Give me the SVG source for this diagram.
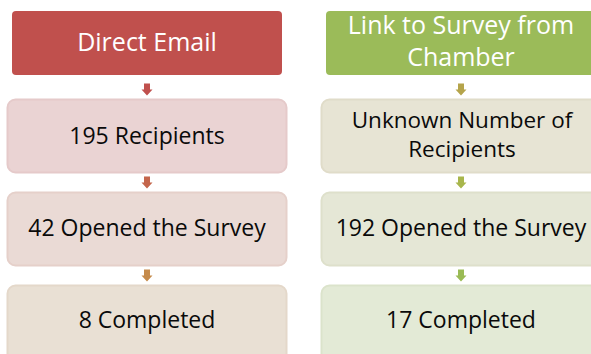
<svg xmlns="http://www.w3.org/2000/svg" width="591" height="354" viewBox="0 0 591 354">
  <style>
    text { font-family: "Open Sans", "Liberation Sans", sans-serif; text-anchor: middle; }
    .head { font-size: 25px; fill: #ffffff; }
    .step { font-size: 23px; fill: #0a0a0a; }
    .step2 { font-size: 22.5px; fill: #0a0a0a; }
    .box { stroke-width: 2; }
  </style>
  <defs>
    <!-- down arrow shape, drawn at origin, centred on x=0, 12 px tall -->
    <path id="down" d="M-3,0 H3 V6 H5.5 L0,12 L-5.5,6 H-3 Z"/>
  </defs>

  <!-- Left column: Direct Email -->
  <g id="direct-email">
    <rect x="12" y="11" width="270" height="64" rx="4" fill="#C0504D"/>
    <text class="head" x="147" y="51">Direct Email</text>
  </g>
  <g id="recipients-195">
    <rect class="box" x="7.5" y="99.5" width="279" height="73" rx="8" fill="#EAD3D3" stroke="#E5CACA"/>
    <text class="step" x="147" y="144">195 Recipients</text>
  </g>
  <g id="opened-42">
    <rect class="box" x="7.5" y="192.5" width="279" height="73" rx="8" fill="#EADAD5" stroke="#E5D0CA"/>
    <text class="step" x="147" y="236">42 Opened the Survey</text>
  </g>
  <g id="completed-8">
    <rect class="box" x="7.5" y="285.5" width="279" height="80" rx="8" fill="#E9E0D4" stroke="#E4D8CA"/>
    <text class="step" x="147" y="328">8 Completed</text>
  </g>

  <!-- Right column: Link to Survey from Chamber -->
  <g id="chamber-link">
    <rect x="326" y="11" width="270" height="64" rx="4" fill="#9BBB59"/>
    <text class="head" x="461" y="34">Link to Survey from</text>
    <text class="head" x="461" y="66">Chamber</text>
  </g>
  <g id="recipients-unknown">
    <rect class="box" x="321.5" y="99.5" width="279" height="73" rx="8" fill="#E7E4D4" stroke="#E0DCC9"/>
    <text class="step2" x="462" y="127.5">Unknown Number of</text>
    <text class="step2" x="462" y="156.5">Recipients</text>
  </g>
  <g id="opened-192">
    <rect class="box" x="321.5" y="192.5" width="279" height="73" rx="8" fill="#E5E7D6" stroke="#DEE0CB"/>
    <text class="step" x="461" y="236">192 Opened the Survey</text>
  </g>
  <g id="completed-17">
    <rect class="box" x="321.5" y="285.5" width="279" height="80" rx="8" fill="#E3EAD6" stroke="#DBE3CB"/>
    <text class="step" x="461" y="328">17 Completed</text>
  </g>

  <!-- Connectors -->
  <g id="connectors">
    <use href="#down" transform="translate(147,83.5)" fill="#C0504D"/>
    <use href="#down" transform="translate(147,176.5)" fill="#C4654B"/>
    <use href="#down" transform="translate(147,269.5)" fill="#C58A4A"/>
    <use href="#down" transform="translate(461,83.5)" fill="#B5A44B"/>
    <use href="#down" transform="translate(461,176.5)" fill="#A8B64C"/>
    <use href="#down" transform="translate(461,269.5)" fill="#9ABB55"/>
  </g>
</svg>
